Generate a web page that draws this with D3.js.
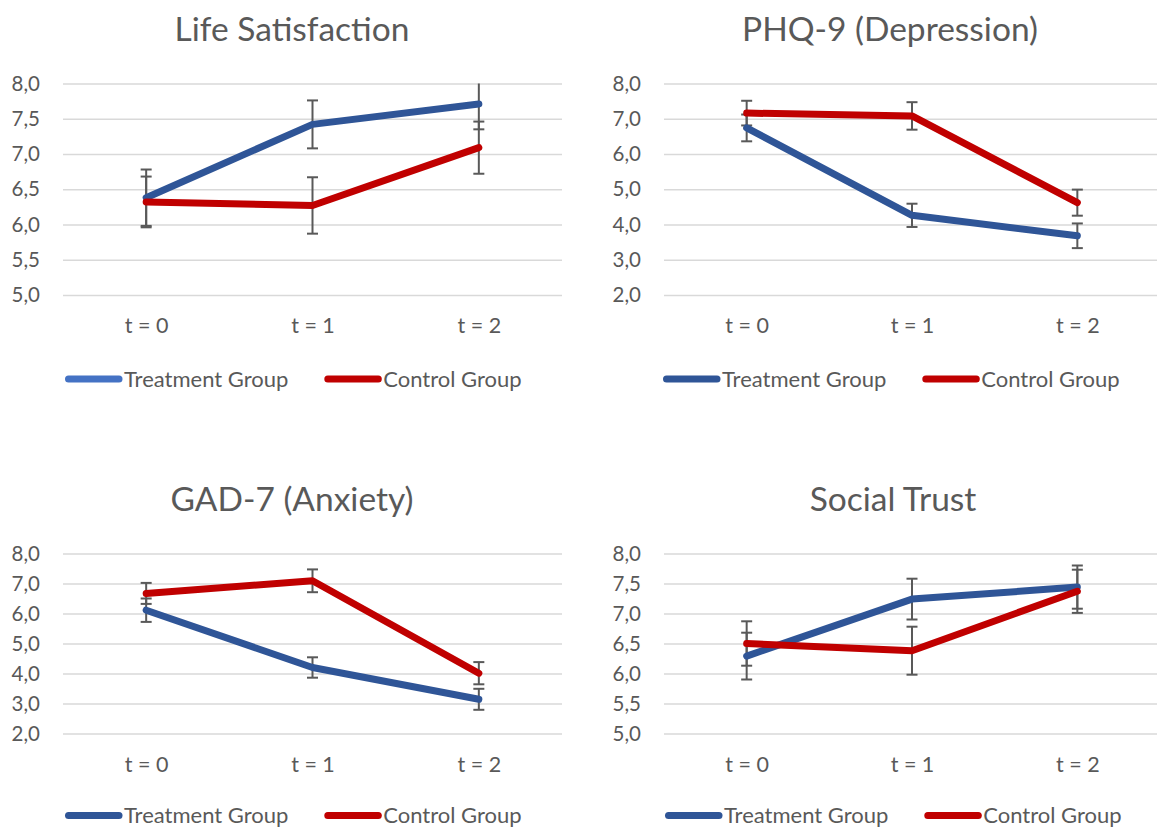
<!DOCTYPE html>
<html>
<head>
<meta charset="utf-8">
<script src="https://cdnjs.cloudflare.com/ajax/libs/d3/7.8.5/d3.min.js"></script>
<style>
  body { margin: 0; background: #fff; }
  svg { display: block; font-family: Lato, "Open Sans", sans-serif; }
</style>
</head>
<body>
<script>
// time points on the x axis
var categories = ['t = 0', 't = 1', 't = 2'];
var seriesNames = ['Treatment Group', 'Control Group'];

// Life Satisfaction
var lifeTreatment = [6.38, 7.42, 7.71];
var lifeTreatmentErr = [0.40, 0.34, 0.36];
var lifeControl = [6.32, 6.27, 7.09];
var lifeControlErr = [0.36, 0.40, 0.37];
var lifeTicks = [5.0, 5.5, 6.0, 6.5, 7.0, 7.5, 8.0];

// PHQ-9 (Depression)
var phqTreatment = [6.74, 4.26, 3.68];
var phqTreatmentErr = [0.38, 0.33, 0.35];
var phqControl = [7.16, 7.08, 4.62];
var phqControlErr = [0.35, 0.39, 0.37];
var phqTicks = [2.0, 3.0, 4.0, 5.0, 6.0, 7.0, 8.0];

// GAD-7 (Anxiety)
var gadTreatment = [6.11, 4.20, 3.14];
var gadTreatmentErr = [0.39, 0.34, 0.35];
var gadControl = [6.67, 7.09, 4.01];
var gadControlErr = [0.35, 0.38, 0.37];
var gadTicks = [2.0, 3.0, 4.0, 5.0, 6.0, 7.0, 8.0];

// Social Trust
var trustTreatment = [6.29, 7.24, 7.44];
var trustTreatmentErr = [0.39, 0.34, 0.36];
var trustControl = [6.50, 6.38, 7.37];
var trustControlErr = [0.37, 0.40, 0.36];
var trustTicks = [5.0, 5.5, 6.0, 6.5, 7.0, 7.5, 8.0];

var width = 1157;
var height = 829;
var textColor = '#595959';
var gridColor = '#d9d9d9';
var blue = '#2f5597';
var red = '#c00000';

var fmt = d3.formatLocale({ decimal: ',', thousands: '.', grouping: [3], currency: ['', ''] }).format('.1f');

var panels = [
  { title: 'Life Satisfaction', ticks: lifeTicks, cx: 292, x0: 63, x1: 562, top: 0, lx: 65,
    treat: lifeTreatment, treatErr: lifeTreatmentErr, ctrl: lifeControl, ctrlErr: lifeControlErr,
    legendBlue: '#4472c4' },
  { title: 'PHQ-9 (Depression)', ticks: phqTicks, cx: 890, x0: 664, x1: 1160, top: 0, lx: 663,
    treat: phqTreatment, treatErr: phqTreatmentErr, ctrl: phqControl, ctrlErr: phqControlErr },
  { title: 'GAD-7 (Anxiety)', ticks: gadTicks, cx: 292, x0: 63, x1: 562, top: 1, lx: 65,
    treat: gadTreatment, treatErr: gadTreatmentErr, ctrl: gadControl, ctrlErr: gadControlErr },
  { title: 'Social Trust', ticks: trustTicks, cx: 893, x0: 664, x1: 1160, top: 1, lx: 665,
    treat: trustTreatment, treatErr: trustTreatmentErr, ctrl: trustControl, ctrlErr: trustControlErr }
];

// vertical layout of the two rows
var rows = [
  { titleY: 41, y0: 83.5, y1: 295, legendY: 379 },
  { titleY: 511, y0: 553.5, y1: 733.5, legendY: 815.5 }
];

var svg = d3.select('body').append('svg')
  .attr('width', width)
  .attr('height', height);

svg.append('rect').attr('width', width).attr('height', height).attr('fill', '#fff');

var drawPanel = function(p) {
  var row = rows[p.top];
  var g = svg.append('g');

  var x = d3.scalePoint().domain(categories).range([p.x0, p.x1]).padding(0.5);
  var y = d3.scaleLinear().domain(d3.extent(p.ticks)).range([row.y1, row.y0]);

  g.append('text')
    .attr('x', p.cx)
    .attr('y', row.titleY)
    .attr('text-anchor', 'middle')
    .attr('fill', textColor)
    .style('font-size', '33.5px')
    .text(p.title);

  // y axis with gridlines
  var yAxis = g.append('g')
    .attr('transform', 'translate(' + p.x0 + ',0)')
    .call(d3.axisLeft(y).tickValues(p.ticks).tickFormat(fmt)
      .tickSizeInner(-(p.x1 - p.x0)).tickSizeOuter(0).tickPadding(23));
  yAxis.select('.domain').remove();
  yAxis.selectAll('line').attr('stroke', gridColor).attr('stroke-width', 1.4);
  yAxis.selectAll('text').attr('fill', textColor).style('font-size', '20.5px').style('font-family', 'Lato');

  // x axis labels
  var xAxis = g.append('g')
    .attr('transform', 'translate(0,' + row.y1 + ')')
    .call(d3.axisBottom(x).tickSize(0).tickPadding(23));
  xAxis.select('.domain').remove();
  xAxis.selectAll('text').attr('fill', textColor).style('font-size', '21.5px').style('font-family', 'Lato');

  var series = [
    { vals: p.treat, err: p.treatErr, color: blue },
    { vals: p.ctrl, err: p.ctrlErr, color: red }
  ];

  var lo = d3.min(p.ticks);
  var hi = d3.max(p.ticks);

  // error bars, clipped to the axis range
  series.forEach(function(s) {
    s.vals.forEach(function(v, i) {
      var top = v + s.err[i];
      var bot = v - s.err[i];
      var cx = x(categories[i]);
      g.append('line')
        .attr('x1', cx).attr('x2', cx)
        .attr('y1', y(Math.min(top, hi))).attr('y2', y(Math.max(bot, lo)))
        .attr('stroke', textColor).attr('stroke-width', 2);
      [top, bot].forEach(function(e) {
        if (e <= hi && e >= lo) {
          g.append('line')
            .attr('x1', cx - 5.5).attr('x2', cx + 5.5)
            .attr('y1', y(e)).attr('y2', y(e))
            .attr('stroke', textColor).attr('stroke-width', 2);
        }
      });
    });
  });

  var line = d3.line()
    .x(function(d, i) { return x(categories[i]); })
    .y(function(d) { return y(d); });

  series.forEach(function(s) {
    g.append('path')
      .datum(s.vals)
      .attr('d', line)
      .attr('fill', 'none')
      .attr('stroke', s.color)
      .attr('stroke-width', 7)
      .attr('stroke-linecap', 'round')
      .attr('stroke-linejoin', 'round');
  });

  // legend
  var lx = p.lx;
  var legendColors = [p.legendBlue || blue, red];
  seriesNames.forEach(function(name, i) {
    g.append('line')
      .attr('x1', lx + 3.5).attr('x2', lx + 54)
      .attr('y1', row.legendY).attr('y2', row.legendY)
      .attr('stroke', legendColors[i]).attr('stroke-width', 7)
      .attr('stroke-linecap', 'round');
    var t = g.append('text')
      .attr('x', lx + 59)
      .attr('y', row.legendY)
      .attr('dy', '0.35em')
      .attr('fill', textColor)
      .style('font-size', '22px')
      .text(name);
    lx = lx + 59 + t.node().getComputedTextLength() + 36;
  });
};

panels.forEach(drawPanel);
</script>
</body>
</html>
